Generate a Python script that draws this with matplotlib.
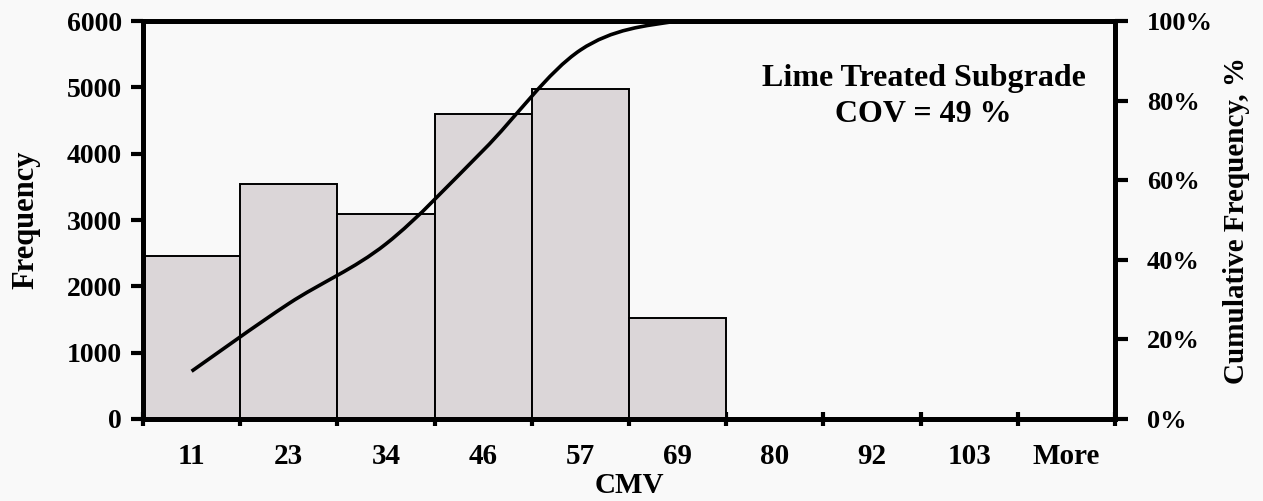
import numpy as np
import matplotlib
matplotlib.use("Agg")
import matplotlib.pyplot as plt
from matplotlib.path import Path
from matplotlib.patches import PathPatch
from matplotlib.ticker import FuncFormatter

categories = ["11", "23", "34", "46", "57", "69", "80", "92", "103", "More"]
frequency = [2460, 3545, 3090, 4595, 4970, 1520, 0, 0, 0, 0]
cumulative = [0.12, 0.29, 0.44, 0.675, 0.927, 1.0, 1.0, 1.0, 1.0, 1.0]
annotation = "Lime Treated Subgrade\nCOV = 49 %"

plt.rcParams['font.family'] = ['Liberation Serif', 'DejaVu Serif']
plt.rcParams['font.weight'] = 'bold'

fig = plt.figure(figsize=(12.63, 5.01), dpi=100, facecolor='#f9f9f9')
ax = fig.add_axes([143/1263, 1-419/501, (1115-143)/1263, (419-21)/501])
ax.set_facecolor('#f9f9f9')

x = np.arange(len(categories))
ax.bar(x, frequency, width=1.0, color='#dbd6d8', edgecolor='black', linewidth=1.4, zorder=2)
ax.set_xlim(-0.5, len(categories) - 0.5)
ax.set_ylim(0, 6000)
ax.set_yticks([0, 1000, 2000, 3000, 4000, 5000, 6000])
ax.set_xticks(x)
ax.set_xticklabels(categories)
ax.set_xticks(np.arange(-0.5, len(categories), 1.0), minor=True)
ax.tick_params(axis='x', which='major', length=0, pad=17, labelsize=21)
ax.tick_params(axis='x', which='minor', length=10, width=3, direction='inout')
ax.tick_params(axis='y', length=9, width=3, direction='out', pad=6, labelsize=20)
for s in ax.spines.values():
    s.set_linewidth(3.5)
    s.set_zorder(5)
ax.set_ylabel("Frequency", fontsize=22, fontweight='bold', labelpad=19)
ax.set_xlabel("CMV", fontsize=21, fontweight='bold', labelpad=2)

ax2 = ax.twinx()
ax2.set_ylim(0, 1)
ax2.set_yticks([0, 0.2, 0.4, 0.6, 0.8, 1.0])
ax2.yaxis.set_major_formatter(FuncFormatter(lambda v, p: f"{v*100:.0f}%"))
ax2.tick_params(axis='y', length=9, width=3, direction='out', pad=14, labelsize=19)
for s in ax2.spines.values():
    s.set_linewidth(3.5)
ax2.set_ylabel("Cumulative Frequency, %", fontsize=21, fontweight='bold', labelpad=7)

# smooth curve (Excel-style Bezier through points)
pts = np.column_stack([x.astype(float), np.array(cumulative)])
n = len(pts)
verts = [tuple(pts[0])]
codes = [Path.MOVETO]
for i in range(n - 1):
    p0 = pts[i - 1] if i > 0 else pts[i]
    p1 = pts[i]
    p2 = pts[i + 1]
    p3 = pts[i + 2] if i + 2 < n else pts[i + 1]
    c1 = p1 + (p2 - p0) / 6.0
    c2 = p2 - (p3 - p1) / 6.0
    verts += [tuple(c1), tuple(c2), tuple(p2)]
    codes += [Path.CURVE4] * 3
patch = PathPatch(Path(verts, codes), facecolor='none', edgecolor='black', lw=2.6, zorder=3)
ax2.add_patch(patch)

ax.text(0.803, 0.81, annotation, transform=ax.transAxes, ha='center', va='center',
        fontsize=23, fontweight='bold', linespacing=1.35, zorder=6)

fig.savefig("out.png", dpi=100, facecolor=fig.get_facecolor())
